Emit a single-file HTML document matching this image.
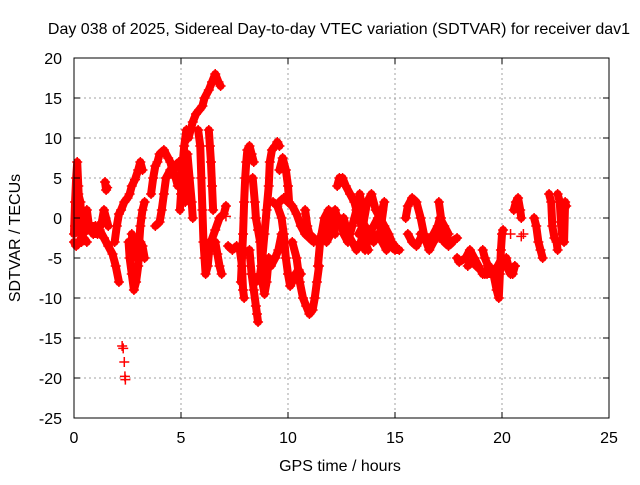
<!DOCTYPE html>
<html><head><meta charset="utf-8">
<style>
body{margin:0;background:#fff;}
svg text{font-family:"Liberation Sans",sans-serif;font-size:16px;fill:#000;}
</style></head>
<body>
<svg id="chart" width="640" height="480" viewBox="0 0 640 480">
<rect width="640" height="480" fill="#fff"/>
<text x="339" y="34" text-anchor="middle">Day 038 of 2025, Sidereal Day-to-day VTEC variation (SDTVAR) for receiver dav1</text>
<g id="grid"></g>
<g id="marks"></g>
<rect x="74" y="58" width="535" height="360" fill="none" stroke="#000" stroke-width="1"/>
<g id="ticks"></g>
<text x="340" y="471" text-anchor="middle">GPS time / hours</text>
<text transform="translate(20,238) rotate(-90)" text-anchor="middle">SDTVAR / TECUs</text>
</svg>
<script>
const xTicks=[0,5,10,15,20,25];
const yTicks=[-25,-20,-15,-10,-5,0,5,10,15,20];
// each trace: [time(h), SDTVAR(TECU)] pairs
const trace1=[[0,-2],[0.05,2],[0.1,5],[0.15,7],[0.2,4],[0.25,1],[0.3,-1],[0.4,-2],[0.6,-1.5],[0.8,-1],[1.0,-1],[1.2,-1.5],[1.4,-2.5],[1.6,-3.5],[1.8,-4.5],[1.95,-6],[2.1,-8]];
const trace2=[[0,-3],[0.1,-3.5],[0.25,-3],[0.4,-2],[0.5,0],[0.6,1],[0.7,-1],[0.9,-2],[1.1,-2],[1.3,-0.5],[1.4,1],[1.6,-1]];
const trace3=[[0.05,-1],[0.1,1],[0.2,3],[0.3,2],[0.35,-3],[0.45,-2.5],[0.6,-3]];
const trace4=[[1.45,4.5],[1.5,3.5],[1.55,3.8]];
const trace5=[[1.9,-3],[2.0,-1],[2.1,0.5],[2.2,1],[2.35,2],[2.5,2.5],[2.6,3],[2.7,4],[2.85,4.8],[3.0,6],[3.1,7],[3.2,6]];
const trace6=[[2.55,-3],[2.6,-5],[2.7,-7],[2.8,-9],[2.9,-8],[3.0,-6],[3.05,-3],[3.1,-1],[3.15,0],[3.2,1],[3.3,2]];
const trace7=[[2.7,-2],[2.8,-4],[2.9,-5],[3.0,-4],[3.1,-3],[3.2,-3.5],[3.3,-5]];
const trace8=[[3.6,3],[3.7,5],[3.8,6.5],[3.9,7],[4.0,8],[4.2,8.5],[4.4,7.5],[4.5,7],[4.6,6],[4.75,5],[4.85,4]];
const trace9=[[3.8,-1],[4.0,-0.5],[4.1,1],[4.2,3],[4.3,5],[4.5,6],[4.7,6.5],[4.9,7],[5.0,6],[5.1,4],[5.2,2]];
const trace10=[[4.95,1],[5.0,3],[5.05,6],[5.15,9],[5.25,11],[5.35,10],[5.45,11],[5.55,12],[5.7,13],[5.85,13.5],[6.0,14],[6.1,15],[6.3,16],[6.45,17],[6.6,18],[6.75,17],[6.85,16.5]];
const trace11=[[5.3,8],[5.4,5],[5.5,2],[5.55,0]];
const trace12=[[5.8,11],[5.9,9],[5.95,5],[6.0,1],[6.05,-3],[6.1,-5],[6.15,-7],[6.25,-6],[6.35,-3]];
const trace13=[[6.3,11],[6.35,9],[6.4,7],[6.45,4],[6.5,1]];
const trace14=[[6.2,-4],[6.4,-3],[6.6,-1.5],[6.8,0],[7.0,0.5],[7.1,1.5]];
const trace15=[[6.6,-3],[6.7,-4.5],[6.8,-6],[6.9,-7]];
const trace16=[[7.2,-3.5],[7.4,-4],[7.6,-3.5],[7.75,-4],[7.85,-6],[7.9,-9],[7.95,-10]];
const trace17=[[7.8,-8],[7.85,-5],[7.9,-2],[7.95,2],[8.0,5],[8.05,7],[8.1,8.5],[8.2,9],[8.3,8],[8.4,7]];
const trace18=[[8.35,5],[8.45,2],[8.5,0],[8.6,-1.5],[8.7,-3],[8.75,-6],[8.8,-8],[8.9,-9.5],[9.0,-8],[9.1,-5]];
const trace19=[[8.2,-4],[8.3,-7],[8.4,-9],[8.5,-11],[8.55,-12],[8.6,-13]];
const trace20=[[8.5,-8],[8.7,-7],[8.8,-5],[8.9,-2],[9.0,1],[9.1,4],[9.15,7],[9.25,8.5],[9.4,9],[9.5,9.5],[9.6,9]];
const trace21=[[8.8,-5],[9.0,-6],[9.2,-6],[9.4,-5],[9.55,-4],[9.7,-2]];
const trace22=[[9.3,2],[9.5,1.5],[9.7,0],[9.8,-2],[9.9,-5],[10.0,-7],[10.1,-8.5],[10.2,-8],[10.35,-7],[10.5,-6.5],[10.6,-7]];
const trace23=[[9.6,6],[9.75,7.5],[9.9,6],[10.0,4],[10.05,2]];
const trace24=[[9.6,2],[9.8,2.5],[10.0,2],[10.2,1.5],[10.4,0.5],[10.6,-1],[10.8,-2],[11.0,-2.5],[11.2,-3]];
const trace25=[[10.2,-3],[10.4,-5],[10.55,-8],[10.7,-10],[10.85,-11],[11.0,-12],[11.15,-11.5],[11.25,-10],[11.35,-8],[11.45,-6]];
const trace26=[[10.8,1],[10.9,-1],[11.0,-2],[11.2,-2.5],[11.4,-3],[11.6,-2],[11.8,-1],[12.0,0],[12.2,-1]];
const trace27=[[11.4,-6],[11.5,-3],[11.7,0],[11.9,1],[12.05,0],[12.2,-2]];
const trace28=[[12.3,4],[12.4,5],[12.55,5],[12.7,4],[12.9,3],[13.1,2],[13.3,0],[13.45,-1]];
const trace29=[[12.2,-1],[12.4,0],[12.6,-2],[12.8,-3],[13.0,-1],[13.2,1],[13.35,3],[13.5,1],[13.6,-3],[13.75,-4]];
const trace30=[[13.3,-2],[13.5,-1],[13.7,2],[13.9,3],[14.1,1],[14.3,0],[14.5,-1],[14.7,-2],[14.85,-3]];
const trace31=[[13.6,-4],[13.8,-2],[14.0,-1],[14.2,0],[14.4,1],[14.5,2],[14.3,-2],[14.6,-3],[14.8,-3.5],[15.0,-4],[15.2,-4]];
const trace32=[[15.5,0],[15.6,1.5],[15.8,2.5],[16.0,2],[16.2,0],[16.35,-2],[16.5,-3],[16.7,-3],[16.9,-2],[17.1,-2.5]];
const trace33=[[15.6,-2],[15.8,-3],[16.0,-3.5],[16.3,-2],[16.6,-3],[16.8,-2],[17.0,-1],[17.1,0],[17.3,-1],[17.5,-2]];
const trace34=[[17.05,2],[17.15,0],[17.2,-2],[17.3,-3],[17.5,-3.5],[17.7,-3]];
const trace35=[[17.9,-5],[18.0,-5.5],[18.3,-5],[18.5,-4],[18.7,-5],[18.9,-6],[19.1,-7],[19.3,-7],[19.5,-7],[19.65,-6.5],[19.8,-6],[20.0,-5],[20.2,-6],[20.4,-7],[20.6,-6]];
const trace36=[[19.1,-4],[19.2,-5],[19.35,-6],[19.5,-6.5],[19.6,-7],[19.75,-9],[19.85,-10],[19.9,-7],[19.95,-4],[20.0,-2],[20.05,-1.5]];
const trace37=[[20.2,-5],[20.3,-6],[20.4,-6.5],[20.5,-7],[20.6,-6]];
const trace38=[[20.55,1],[20.65,2],[20.75,2.5],[20.85,1],[20.9,0]];
const trace39=[[21.5,0],[21.6,-1],[21.7,-3],[21.8,-4],[21.9,-5]];
const trace40=[[22.2,3],[22.3,2],[22.35,-1],[22.45,-2.5],[22.55,-3],[22.6,-4]];
const trace41=[[22.6,3],[22.7,2],[22.75,-0.5],[22.8,-2],[22.9,-3],[22.95,2],[23.0,1.5]];
const trace42=[[11.8,-3],[12.0,-2],[12.2,1],[12.4,-1],[12.6,0],[12.8,-2],[13.0,-3],[13.2,-4],[13.4,-3],[13.6,-1]];
const trace43=[[14.0,-3],[14.2,-2],[14.4,-3],[14.6,-4],[14.8,-3],[15.0,-3.5]];
const trace44=[[16.2,-2],[16.4,-2.5],[16.6,-4],[16.8,-3],[17.0,-2],[17.3,-2.5],[17.6,-3],[17.9,-2.5]];
const trace45=[[18.4,-6],[18.6,-5.5],[18.8,-6],[19.0,-6.5],[19.2,-7],[19.4,-6]];
const isolated=[[2.25,-16],[2.3,-16.3],[2.35,-18],[2.38,-19.8],[2.4,-20.2],[20.4,-2],[20.9,-2.3],[21.0,-2],[7.1,0.2],[8.3,-7]];
const traces=[trace1,trace2,trace3,trace4,trace5,trace6,trace7,trace8,trace9,trace10,trace11,trace12,trace13,trace14,trace15,trace16,trace17,trace18,trace19,trace20,trace21,trace22,trace23,trace24,trace25,trace26,trace27,trace28,trace29,trace30,trace31,trace32,trace33,trace34,trace35,trace36,trace37,trace38,trace39,trace40,trace41,trace42,trace43,trace44,trace45];

const NS="http://www.w3.org/2000/svg";
const X0=74,X1=609,Y0=418,Y1=58;
function sx(t){return X0+(t-0)/(25-0)*(X1-X0);}
function sy(v){return Y0-(v-(-25))/(20-(-25))*(Y0-Y1);}
const grid=document.getElementById('grid'),ticks=document.getElementById('ticks'),marks=document.getElementById('marks');
function mk(tag,attrs,parent){const e=document.createElementNS(NS,tag);for(const k in attrs)e.setAttribute(k,attrs[k]);parent.appendChild(e);return e;}
xTicks.forEach(t=>{
  const x=sx(t);
  if(t>0&&t<25){const g=mk('line',{x1:x,x2:x,y1:Y1,y2:Y0,stroke:'#a0a0a0','stroke-dasharray':'2,3'},grid);
  
  }
  mk('line',{x1:x,x2:x,y1:Y0,y2:Y0-6,stroke:'#000'},ticks);
  mk('line',{x1:x,x2:x,y1:Y1,y2:Y1+6,stroke:'#000'},ticks);
  const tx=mk('text',{x:x,y:443,'text-anchor':'middle'},ticks);tx.textContent=t;
  
  
});
yTicks.forEach(v=>{
  const y=sy(v);
  if(v>-25&&v<20){const g=mk('line',{x1:X0,x2:X1,y1:y,y2:y,stroke:'#a0a0a0','stroke-dasharray':'2,3'},grid);
  
  }
  mk('line',{x1:X0,x2:X0+6,y1:y,y2:y,stroke:'#000'},ticks);
  mk('line',{x1:X1,x2:X1-6,y1:y,y2:y,stroke:'#000'},ticks);
  const tx=mk('text',{x:62,y:y+6,'text-anchor':'end'},ticks);tx.textContent=v;
  
  
});
function plus(t,v,parent){
  const x=sx(t),y=sy(v);
  mk('path',{d:`M${x-5},${y}H${x+5}M${x},${y-5}V${y+5}`,stroke:'#f00','stroke-width':1.5},parent);
}
traces.forEach((tr,i)=>{
  const g=mk('g',{},marks);
  
  
  mk('polyline',{points:tr.map(p=>sx(p[0])+','+sy(p[1])).join(' '),fill:'none',stroke:'#f00','stroke-width':8,'stroke-linejoin':'round','stroke-linecap':'round'},g);
  tr.forEach(p=>plus(p[0],p[1],g));
});
const iso=mk('g',{},marks);


isolated.forEach(p=>plus(p[0],p[1],iso));
</script>
</body></html>
